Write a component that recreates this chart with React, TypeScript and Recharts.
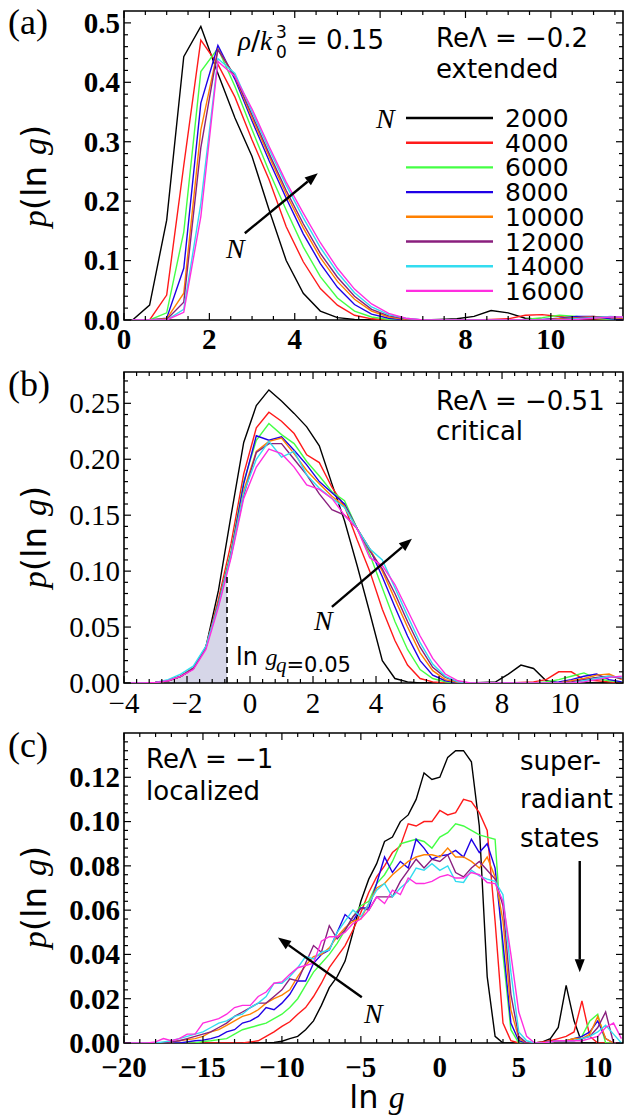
import { ComposedChart, Line, Area, XAxis, YAxis, ReferenceLine, ReferenceArea, Legend } from 'recharts'

// system sizes N and their colours
const SIZES = ['2000', '4000', '6000', '8000', '10000', '12000', '14000', '16000']
const KEYS = ['n2000', 'n4000', 'n6000', 'n8000', 'n10000', 'n12000', 'n14000', 'n16000']
const COLORS = ['#000000', '#ff1a1a', '#44ff44', '#1f00e6', '#ff8000', '#8a1f7e', '#33dcf0', '#ff2ee0']

const SERIF = '"Liberation Serif", "Times New Roman", serif'
const SANS = '"DejaVu Sans", "Noto Sans", sans-serif'

// ---------- panel (a): ReΛ = -0.2, extended ----------
const xA = [0.2, 0.6, 1.0, 1.4, 1.8, 2.2, 2.6, 3.0, 3.4, 3.8, 4.2, 4.6, 5.0, 5.4, 5.8, 6.2, 6.6, 7.0, 7.4, 7.8, 8.2, 8.6, 9.0, 9.4, 9.8, 10.2, 10.6, 11.0, 11.4, 11.8]
const a2000 = [0, 0.025, 0.168, 0.443, 0.494, 0.415, 0.34, 0.275, 0.185, 0.1, 0.045, 0.015, 0.004, 0.001, 0, 0, 0, 0, 0.001, 0.002, 0.006, 0.016, 0.012, 0.003, 0.001, 0, 0, 0, 0, 0]
const a4000 = [0, 0, 0.042, 0.26, 0.471, 0.43, 0.375, 0.303, 0.236, 0.157, 0.098, 0.053, 0.025, 0.008, 0.002, 0, 0, 0, 0, 0, 0, 0.001, 0.002, 0.008, 0.009, 0.006, 0.003, 0.002, 0.001, 0]
const a6000 = [0, 0, 0.012, 0.148, 0.418, 0.457, 0.393, 0.32, 0.25, 0.185, 0.123, 0.073, 0.037, 0.015, 0.005, 0.001, 0, 0, 0, 0, 0, 0, 0, 0.001, 0.004, 0.008, 0.006, 0.003, 0.001, 0]
const a8000 = [0, 0, 0.003, 0.087, 0.365, 0.462, 0.405, 0.335, 0.268, 0.205, 0.145, 0.095, 0.055, 0.026, 0.01, 0.003, 0, 0, 0, 0, 0, 0, 0, 0, 0.001, 0.003, 0.006, 0.006, 0.002, 0]
const a10000 = [0, 0, 0.002, 0.045, 0.32, 0.455, 0.41, 0.34, 0.275, 0.212, 0.155, 0.105, 0.065, 0.035, 0.015, 0.005, 0.001, 0, 0, 0, 0, 0, 0, 0, 0, 0.002, 0.004, 0.006, 0.004, 0.002]
const a12000 = [0, 0, 0.001, 0.03, 0.29, 0.455, 0.41, 0.345, 0.28, 0.218, 0.162, 0.112, 0.072, 0.04, 0.018, 0.007, 0.002, 0, 0, 0, 0, 0, 0, 0, 0, 0.001, 0.003, 0.005, 0.005, 0.003]
const a14000 = [0, 0, 0, 0.018, 0.196, 0.44, 0.415, 0.35, 0.287, 0.227, 0.172, 0.122, 0.08, 0.046, 0.022, 0.009, 0.003, 0, 0, 0, 0, 0, 0, 0, 0, 0, 0.002, 0.004, 0.006, 0.004]
const a16000 = [0, 0, 0, 0.013, 0.174, 0.435, 0.41, 0.355, 0.292, 0.232, 0.18, 0.13, 0.087, 0.052, 0.027, 0.011, 0.003, 0, 0, 0, 0, 0, 0, 0, 0, 0, 0.001, 0.003, 0.005, 0.005]
const aXTicks = [0, 2, 4, 6, 8, 10]
const aYTicks = [0, 0.1, 0.2, 0.3, 0.4, 0.5]

// ---------- panel (b): ReΛ = -0.51, critical ----------
const xB = [-3.8, -3.4, -3.0, -2.6, -2.2, -1.8, -1.4, -1.0, -0.6, -0.2, 0.2, 0.6, 1.0, 1.4, 1.8, 2.2, 2.6, 3.0, 3.4, 3.8, 4.2, 4.6, 5.0, 5.4, 5.8, 6.2, 6.6, 7.0, 7.4, 7.8, 8.2, 8.6, 9.0, 9.4, 9.8, 10.2, 10.6, 11.0, 11.4, 11.8]
const b2000 = [0, 0, 0.0005, 0.002, 0.006, 0.013, 0.032, 0.083, 0.15, 0.215, 0.248, 0.262, 0.252, 0.241, 0.229, 0.212, 0.178, 0.145, 0.105, 0.063, 0.02, 0.004, 0.001, 0, 0, 0, 0, 0, 0.0005, 0.001, 0.008, 0.016, 0.013, 0.002, 0, 0, 0, 0, 0, 0]
const b4000 = [0, 0, 0.0005, 0.002, 0.006, 0.013, 0.032, 0.075, 0.125, 0.187, 0.228, 0.242, 0.234, 0.223, 0.204, 0.197, 0.175, 0.158, 0.128, 0.1, 0.066, 0.038, 0.016, 0.004, 0.001, 0, 0, 0, 0, 0, 0, 0.0005, 0.001, 0.003, 0.01, 0.01, 0.003, 0.002, 0.001, 0]
const b6000 = [0, 0, 0.0005, 0.002, 0.006, 0.013, 0.032, 0.072, 0.118, 0.18, 0.217, 0.232, 0.222, 0.214, 0.198, 0.185, 0.171, 0.163, 0.138, 0.115, 0.085, 0.055, 0.03, 0.012, 0.004, 0.001, 0, 0, 0, 0, 0, 0, 0, 0.001, 0.003, 0.006, 0.009, 0.004, 0.002, 0.001]
const b8000 = [0, 0, 0.0005, 0.002, 0.006, 0.013, 0.032, 0.071, 0.116, 0.178, 0.221, 0.217, 0.22, 0.208, 0.195, 0.18, 0.17, 0.16, 0.138, 0.12, 0.095, 0.068, 0.042, 0.02, 0.007, 0.002, 0, 0, 0, 0, 0, 0, 0, 0, 0.001, 0.003, 0.006, 0.008, 0.003, 0.001]
const b10000 = [0, 0, 0.0005, 0.002, 0.006, 0.013, 0.032, 0.071, 0.115, 0.172, 0.207, 0.216, 0.219, 0.205, 0.19, 0.178, 0.167, 0.158, 0.138, 0.12, 0.1, 0.075, 0.05, 0.027, 0.011, 0.003, 0.0005, 0, 0, 0, 0, 0, 0, 0, 0, 0.002, 0.004, 0.007, 0.008, 0.003]
const b12000 = [0, 0, 0.0005, 0.002, 0.006, 0.013, 0.032, 0.071, 0.114, 0.168, 0.206, 0.214, 0.214, 0.2, 0.186, 0.169, 0.155, 0.15, 0.138, 0.118, 0.102, 0.08, 0.055, 0.032, 0.014, 0.005, 0.001, 0, 0, 0, 0, 0, 0, 0, 0, 0.001, 0.003, 0.005, 0.006, 0.004]
const b14000 = [0, 0, 0.0005, 0.003, 0.008, 0.015, 0.033, 0.07, 0.115, 0.17, 0.2, 0.216, 0.202, 0.207, 0.186, 0.174, 0.165, 0.157, 0.138, 0.12, 0.11, 0.085, 0.06, 0.036, 0.017, 0.006, 0.001, 0, 0, 0, 0, 0, 0, 0, 0, 0, 0.002, 0.004, 0.006, 0.005]
const b16000 = [0, 0, 0.0005, 0.002, 0.006, 0.012, 0.03, 0.068, 0.112, 0.165, 0.193, 0.209, 0.205, 0.193, 0.177, 0.173, 0.165, 0.15, 0.138, 0.112, 0.105, 0.088, 0.065, 0.042, 0.022, 0.008, 0.002, 0, 0, 0, 0, 0, 0, 0, 0, 0, 0.001, 0.003, 0.005, 0.006]
// shaded tail below ln g_{q=0.05}
const xShade = [-3.8, -3.4, -3.0, -2.6, -2.2, -1.8, -1.4, -1.0, -0.73]
const pShade = [0, 0, 0.0005, 0.003, 0.008, 0.015, 0.033, 0.071, 0.098]
const gQ = -0.73
const bXTicks = [-4, -2, 0, 2, 4, 6, 8, 10]
const bYTicks = [0, 0.05, 0.1, 0.15, 0.2, 0.25]

// ---------- panel (c): ReΛ = -1, localized ----------
const xC = [-20, -19.5, -19, -18.5, -18, -17.5, -17, -16.5, -16, -15.5, -15, -14.5, -14, -13.5, -13, -12.5, -12, -11.5, -11, -10.5, -10, -9.5, -9, -8.5, -8, -7.5, -7, -6.5, -6, -5.5, -5, -4.5, -4, -3.5, -3, -2.5, -2, -1.5, -1, -0.5, 0, 0.5, 1, 1.5, 2, 2.5, 3, 3.5, 4, 4.5, 5, 5.5, 6, 6.5, 7, 7.5, 8, 8.5, 9, 9.5, 10, 10.5, 11, 11.5]
const c2000 = [0, 0, 0, 0, 0, 0, 0, 0, 0, 0, 0, 0, 0, 0, 0, 0, 0,
  0, 0, 0.0003, 0.0008, 0.002, 0.003, 0.006, 0.01,
  0.017, 0.025, 0.03, 0.037, 0.05, 0.064, 0.074, 0.081,
  0.091, 0.093, 0.1, 0.103, 0.11, 0.122, 0.119, 0.12,
  0.129, 0.132, 0.132, 0.127, 0.098, 0.03, 0.003, 0,
  0, 0, 0, 0, 0.0005, 0.002, 0.007, 0.026,
  0.01, 0, 0, 0, 0, 0, 0]
const c4000 = [0, 0, 0, 0, 0, 0, 0, 0, 0, 0, 0, 0, 0, 0, 0, 0,
  0.0005, 0.001, 0.003, 0.005, 0.0075, 0.0096, 0.013, 0.016,
  0.021, 0.027, 0.034, 0.039, 0.044, 0.051, 0.059, 0.068,
  0.075, 0.08, 0.086, 0.089, 0.099, 0.098, 0.1, 0.1,
  0.105, 0.103, 0.104, 0.11, 0.109, 0.104, 0.096, 0.055,
  0.009, 0.001, 0, 0, 0, 0.0005, 0.001, 0.002,
  0.003, 0.005, 0.019, 0.003, 0, 0, 0, 0]
const c6000 = [0, 0, 0, 0, 0, 0, 0, 0, 0, 0,
  0.0007, 0.001, 0.0015, 0.002, 0.004, 0.006, 0.007, 0.008,
  0.009, 0.011, 0.013, 0.016, 0.02, 0.026, 0.032, 0.036,
  0.04, 0.045, 0.051, 0.057, 0.062, 0.064, 0.072, 0.076,
  0.082, 0.09, 0.091, 0.092, 0.091, 0.088, 0.093, 0.095,
  0.099, 0.098, 0.096, 0.094, 0.093, 0.092, 0.04, 0.006,
  0, 0, 0, 0, 0.0005, 0.001, 0.001, 0.002,
  0.003, 0.01, 0.013, 0, 0, 0]
const c8000 = [0, 0, 0, 0, 0, 0, 0, 0,
  0.0005, 0.001, 0.0013, 0.002, 0.003, 0.005, 0.006, 0.009,
  0.01, 0.012, 0.016, 0.015, 0.018, 0.022, 0.028, 0.028,
  0.036, 0.04, 0.042, 0.05, 0.058, 0.055, 0.061, 0.061,
  0.072, 0.084, 0.077, 0.082, 0.079, 0.092, 0.088, 0.083,
  0.0845, 0.085, 0.087, 0.084, 0.092, 0.086, 0.09, 0.079,
  0.045, 0.009, 0.001, 0, 0, 0, 0.0005, 0.001,
  0.001, 0.002, 0.003, 0.005, 0.01, 0.002, 0, 0]
const c10000 = [0, 0, 0, 0, 0, 0,
  0.0005, 0.001, 0.0015, 0.002, 0.003, 0.005, 0.006, 0.008,
  0.01, 0.012, 0.013, 0.015, 0.018, 0.02, 0.0216, 0.024,
  0.03, 0.035, 0.039, 0.04, 0.043, 0.048, 0.052, 0.055,
  0.056, 0.063, 0.07, 0.072, 0.076, 0.079, 0.082, 0.084,
  0.085, 0.085, 0.084, 0.088, 0.084, 0.084, 0.082, 0.079,
  0.084, 0.075, 0.055, 0.015, 0.002, 0, 0, 0,
  0.0005, 0.001, 0.001, 0.002, 0.002, 0.004, 0.012, 0.002,
  0, 0]
const c12000 = [0, 0, 0, 0, 0, 0,
  0.0005, 0.001, 0.002, 0.003, 0.004, 0.005, 0.007, 0.009,
  0.012, 0.014, 0.016, 0.018, 0.018, 0.021, 0.024, 0.029,
  0.028, 0.036, 0.044, 0.041, 0.053, 0.047, 0.051, 0.057,
  0.061, 0.06, 0.066, 0.066, 0.066, 0.073, 0.078, 0.083,
  0.079, 0.083, 0.082, 0.085, 0.077, 0.075, 0.079, 0.082,
  0.078, 0.074, 0.062, 0.022, 0.003, 0, 0, 0,
  0.0005, 0.001, 0.001, 0.001, 0.002, 0.003, 0.007, 0.014,
  0, 0]
const c14000 = [0, 0, 0, 0, 0,
  0.0005, 0.001, 0.002, 0.003, 0.004, 0.005, 0.007, 0.009,
  0.01, 0.012, 0.013, 0.016, 0.018, 0.021, 0.027, 0.027,
  0.03, 0.034, 0.039, 0.038, 0.041, 0.042, 0.05, 0.055,
  0.06, 0.057, 0.063, 0.069, 0.072, 0.066, 0.07, 0.073,
  0.079, 0.078, 0.081, 0.078, 0.08, 0.073, 0.0725, 0.078,
  0.0755, 0.074, 0.073, 0.067, 0.032, 0.005, 0.001, 0,
  0, 0.0005, 0.001, 0.001, 0.001, 0.002, 0.003, 0.005,
  0.008, 0.004, 0]
const c16000 = [0, 0, 0, 0,
  0.0005, 0.002, 0.001, 0.002, 0.004, 0.004, 0.009, 0.01,
  0.011, 0.013, 0.016, 0.017, 0.017, 0.021, 0.023, 0.027,
  0.0276, 0.031, 0.034, 0.035, 0.036, 0.046, 0.048, 0.048,
  0.05, 0.054, 0.056, 0.06, 0.066, 0.063, 0.069, 0.067,
  0.0745, 0.072, 0.072, 0.073, 0.075, 0.076, 0.0745, 0.0745,
  0.077, 0.076, 0.0725, 0.072, 0.064, 0.04, 0.014, 0.003,
  0, 0, 0.0005, 0.001, 0.001, 0.001, 0.001, 0.002,
  0.003, 0.007, 0.009, 0.002]
const cXTicks = [-20, -15, -10, -5, 0, 5, 10]
const cYTicks = [0, 0.02, 0.04, 0.06, 0.08, 0.1, 0.12]

const PLOT_LEFT = 124
const PLOT_RIGHT = 623

function steps(lo: number, hi: number, step: number) {
  const out: number[] = []
  for (let v = lo; v <= hi + 1e-9; v += step) out.push(+v.toFixed(4))
  return out
}

function makeRows(xs: number[], series: number[][]) {
  return xs.map((x, i) => {
    const r: any = { x }
    series.forEach((s, k) => { r[KEYS[k]] = s[i] })
    return r
  })
}

const rowsA = makeRows(xA, [a2000, a4000, a6000, a8000, a10000, a12000, a14000, a16000])
const rowsB = (() => {
  const rows = makeRows(xB, [b2000, b4000, b6000, b8000, b10000, b12000, b14000, b16000])
  rows.forEach(r => {
    const j = xShade.indexOf(r.x)
    if (j >= 0) r.shade = pShade[j]
  })
  rows.push({ x: gQ, shade: pShade[pShade.length - 1] })
  return rows.sort((p, q) => p.x - q.x)
})()
const rowsC = makeRows(xC, [c2000, c4000, c6000, c8000, c10000, c12000, c14000, c16000])

const minus = (v: number) => (v < 0 ? '\u2212' + Math.abs(v) : String(v))
const isMajor = (v: number, majors: number[]) => majors.some(m => Math.abs(m - v) < 1e-6)

interface PanelCfg {
  top: number
  height: number
  marginTop: number
  xAxisH: number
  xDomain: [number, number]
  yDomain: [number, number]
  xMajor: number[]
  xMinor: number[]
  yMajor: number[]
  yMinor: number[]
  bold: boolean
  font: number
  xLabelOffset: number
  fmtX: (v: number) => string
  fmtY: (v: number) => string
}

function XTick(props: any) {
  const { x, payload, cfg } = props
  const v = payload.value
  const major = isMajor(v, cfg.xMajor)
  const len = major ? 7 : 4
  const yb = cfg.height - cfg.xAxisH
  const yt = cfg.marginTop
  return (
    <g>
      <line x1={x} x2={x} y1={yb} y2={yb - len} stroke="#000" strokeWidth={1.2} />
      <line x1={x} x2={x} y1={yt} y2={yt + len} stroke="#000" strokeWidth={1.2} />
      {major && (
        <text x={x} y={yb + cfg.xLabelOffset} textAnchor="middle" fontFamily={SERIF}
          fontWeight={cfg.bold ? 'bold' : 'normal'} fontSize={cfg.font} fill="#000">
          {cfg.fmtX(v)}
        </text>
      )}
    </g>
  )
}

function YTick(props: any) {
  const { y, payload, cfg } = props
  const v = payload.value
  const major = isMajor(v, cfg.yMajor)
  const len = major ? 7 : 4
  return (
    <g>
      <line x1={PLOT_LEFT} x2={PLOT_LEFT + len} y1={y} y2={y} stroke="#000" strokeWidth={1.2} />
      <line x1={PLOT_RIGHT} x2={PLOT_RIGHT - len} y1={y} y2={y} stroke="#000" strokeWidth={1.2} />
      {major && (
        <text x={PLOT_LEFT - 4} y={y} dy="0.34em" textAnchor="end" fontFamily={SERIF}
          fontWeight={cfg.bold ? 'bold' : 'normal'} fontSize={cfg.font} fill="#000">
          {cfg.fmtY(v)}
        </text>
      )}
    </g>
  )
}

// arrow drawn along a ReferenceLine segment, head at the second point
function Arrow(props: any) {
  const { x1, y1, x2, y2 } = props
  const ang = Math.atan2(y2 - y1, x2 - x1)
  const L = 13
  const W = 5
  const bx = x2 - L * Math.cos(ang)
  const by = y2 - L * Math.sin(ang)
  const pts = `${x2},${y2} ${bx + W * Math.sin(ang)},${by - W * Math.cos(ang)} ${bx - W * Math.sin(ang)},${by + W * Math.cos(ang)}`
  return (
    <g>
      <line x1={x1} y1={y1} x2={bx} y2={by} stroke="#000" strokeWidth={2.4} />
      <polygon points={pts} fill="#000" />
    </g>
  )
}

function SizeLegend() {
  return (
    <svg width={250} height={215} style={{ overflow: 'visible' }}>
      <text x={6} y={28} fontFamily={SERIF} fontStyle="italic" fontSize={28}>N</text>
      {SIZES.map((s, i) => {
        const y = 18 + i * 24.7
        return (
          <g key={s}>
            <line x1={36} x2={123} y1={y} y2={y} stroke={COLORS[i]} strokeWidth={2.4} />
            <text x={135} y={y + 9} fontFamily={SANS} fontSize={25} fill="#000">{s}</text>
          </g>
        )
      })}
    </svg>
  )
}

function Panel({ cfg, rows, extras, legend }: { cfg: PanelCfg; rows: any[]; extras: any[]; legend?: boolean }) {
  const xTicks = Array.from(new Set([...cfg.xMinor, ...cfg.xMajor])).sort((p, q) => p - q)
  const yTicks = Array.from(new Set([...cfg.yMinor, ...cfg.yMajor])).sort((p, q) => p - q)
  return (
    <div style={{ position: 'absolute', left: 0, top: cfg.top }}>
      <ComposedChart width={626} height={cfg.height} data={rows}
        margin={{ top: cfg.marginTop, right: 626 - PLOT_RIGHT, bottom: 0, left: 0 }}>
        <XAxis type="number" dataKey="x" domain={cfg.xDomain} allowDataOverflow ticks={xTicks}
          interval={0} height={cfg.xAxisH} axisLine={false} tickLine={false} tickSize={0} tickMargin={0}
          tick={(p: any) => <XTick {...p} cfg={cfg} />} />
        <YAxis type="number" domain={cfg.yDomain} allowDataOverflow ticks={yTicks}
          interval={0} width={PLOT_LEFT} axisLine={false} tickLine={false} tickSize={0} tickMargin={0}
          tick={(p: any) => <YTick {...p} cfg={cfg} />} />
        {extras.filter(e => e.key === 'shade')}
        {KEYS.map((k, i) => (
          <Line key={k} type="linear" dataKey={k} stroke={COLORS[i]} strokeWidth={1.4}
            dot={false} isAnimationActive={false} connectNulls />
        ))}
        {extras.filter(e => e.key !== 'shade')}
        <ReferenceArea x1={cfg.xDomain[0]} x2={cfg.xDomain[1]} y1={cfg.yDomain[0]} y2={cfg.yDomain[1]}
          fill="none" stroke="#000" strokeWidth={1.6} />
        {legend && (
          <Legend layout="vertical" align="center" verticalAlign="middle"
            wrapperStyle={{ left: 370, top: 100, width: 250, height: 215 }}
            content={() => <SizeLegend />} />
        )}
      </ComposedChart>
    </div>
  )
}

const cfgA: PanelCfg = {
  top: 0, height: 354, marginTop: 11, xAxisH: 34,
  xDomain: [0, 11.69], yDomain: [0, 0.52],
  xMajor: aXTicks, xMinor: steps(0, 11.5, 0.5), yMajor: aYTicks, yMinor: steps(0, 0.51, 0.02),
  bold: true, font: 29, xLabelOffset: 29,
  fmtX: v => String(v), fmtY: v => v.toFixed(1),
}
const cfgB: PanelCfg = {
  top: 340, height: 380, marginTop: 32, xAxisH: 37,
  xDomain: [-4, 11.84], yDomain: [0, 0.278],
  xMajor: bXTicks, xMinor: steps(-4, 11.6, 0.4), yMajor: bYTicks, yMinor: steps(0, 0.27, 0.01),
  bold: false, font: 29, xLabelOffset: 30,
  fmtX: minus, fmtY: v => v.toFixed(2),
}
const cfgC: PanelCfg = {
  top: 700, height: 417, marginTop: 33, xAxisH: 74,
  xDomain: [-20, 11.6], yDomain: [0, 0.14],
  xMajor: cXTicks, xMinor: steps(-20, 11, 1), yMajor: cYTicks, yMinor: steps(0, 0.136, 0.004),
  bold: true, font: 29, xLabelOffset: 34,
  fmtX: minus, fmtY: v => v.toFixed(2),
}

const extrasA = [
  <ReferenceLine key="arrA" segment={[{ x: 2.83, y: 0.146 }, { x: 4.54, y: 0.247 }]} shape={(p: any) => <Arrow {...p} />} />,
]
const extrasB = [
  <Area key="shade" type="linear" dataKey="shade" fill="#d6d6e8" fillOpacity={1} stroke="none"
    isAnimationActive={false} />,
  <ReferenceLine key="qline" segment={[{ x: gQ, y: 0 }, { x: gQ, y: pShade[pShade.length - 1] }]}
    stroke="#000" strokeWidth={1.6} strokeDasharray="6 4" />,
  <ReferenceLine key="arrB" segment={[{ x: 2.6, y: 0.068 }, { x: 5.14, y: 0.129 }]} shape={(p: any) => <Arrow {...p} />} />,
]
const extrasC = [
  <ReferenceLine key="arrC" segment={[{ x: -4.94, y: 0.0207 }, { x: -10.25, y: 0.0476 }]} shape={(p: any) => <Arrow {...p} />} />,
  <ReferenceLine key="arrS" segment={[{ x: 8.86, y: 0.0822 }, { x: 8.86, y: 0.0319 }]} shape={(p: any) => <Arrow {...p} />} />,
]

function YLabel({ cy }: { cy: number }) {
  return (
    <text transform={`translate(46, ${cy}) rotate(-90)`} textAnchor="middle" fontSize={34} fill="#000">
      <tspan fontFamily={SERIF} fontStyle="italic">p</tspan>
      <tspan fontFamily={SANS}>(ln </tspan>
      <tspan fontFamily={SERIF} fontStyle="italic">g</tspan>
      <tspan fontFamily={SANS}>)</tspan>
    </text>
  )
}

export default function App() {
  return (
    <div style={{ position: 'relative', width: 626, height: 1117, background: '#fff' }}>
      <style>{'body{margin:0}'}</style>
      <Panel cfg={cfgA} rows={rowsA} extras={extrasA} legend />
      <Panel cfg={cfgB} rows={rowsB} extras={extrasB} />
      <Panel cfg={cfgC} rows={rowsC} extras={extrasC} />
      <svg width={626} height={1117} style={{ position: 'absolute', left: 0, top: 0, pointerEvents: 'none' }}>
        <g fontFamily={SERIF} fontSize={36} fill="#000">
          <text x={8} y={34}>(a)</text>
          <text x={8} y={396}>(b)</text>
          <text x={8} y={757}>(c)</text>
        </g>
        <YLabel cy={176} />
        <YLabel cy={537} />
        <YLabel cy={897} />

        {/* panel (a) annotations */}
        <text x={238} y={50} fontSize={27} fill="#000">
          <tspan fontFamily={SERIF} fontStyle="italic">ρ</tspan>
          <tspan fontFamily={SANS}>/</tspan>
          <tspan fontFamily={SERIF} fontStyle="italic">k</tspan>
        </text>
        <text x={276} y={38} fontFamily={SANS} fontSize={17}>3</text>
        <text x={276} y={58} fontFamily={SANS} fontSize={17}>0</text>
        <text x={296} y={49} fontFamily={SANS} fontSize={26}>= 0.15</text>
        <text x={436} y={47} fontFamily={SANS} fontSize={26}>ReΛ = −0.2</text>
        <text x={436} y={78} fontFamily={SANS} fontSize={26}>extended</text>
        <text x={226} y={258} fontFamily={SERIF} fontStyle="italic" fontSize={28}>N</text>

        {/* panel (b) annotations */}
        <text x={436} y={410} fontFamily={SANS} fontSize={26}>ReΛ = −0.51</text>
        <text x={436} y={440} fontFamily={SANS} fontSize={26}>critical</text>
        <text x={314} y={630} fontFamily={SERIF} fontStyle="italic" fontSize={28}>N</text>
        <text x={236} y={665} fontSize={24} fill="#000">
          <tspan fontFamily={SANS}>ln </tspan>
          <tspan fontFamily={SERIF} fontStyle="italic">g</tspan>
        </text>
        <text x={276} y={672} fontSize={21} fill="#000">
          <tspan fontFamily={SERIF} fontStyle="italic">q</tspan>
          <tspan fontFamily={SANS}>=0.05</tspan>
        </text>

        {/* panel (c) annotations */}
        <text x={146} y={768} fontFamily={SANS} fontSize={26}>ReΛ = −1</text>
        <text x={146} y={800} fontFamily={SANS} fontSize={26}>localized</text>
        <text x={520} y={770} fontFamily={SANS} fontSize={26}>super-</text>
        <text x={520} y={808} fontFamily={SANS} fontSize={26}>radiant</text>
        <text x={520} y={847} fontFamily={SANS} fontSize={26}>states</text>
        <text x={364} y={1023} fontFamily={SERIF} fontStyle="italic" fontSize={28}>N</text>
        <text x={377} y={1108} textAnchor="middle" fontSize={32} fill="#000">
          <tspan fontFamily={SANS}>ln </tspan>
          <tspan fontFamily={SERIF} fontStyle="italic">g</tspan>
        </text>
      </svg>
    </div>
  )
}
